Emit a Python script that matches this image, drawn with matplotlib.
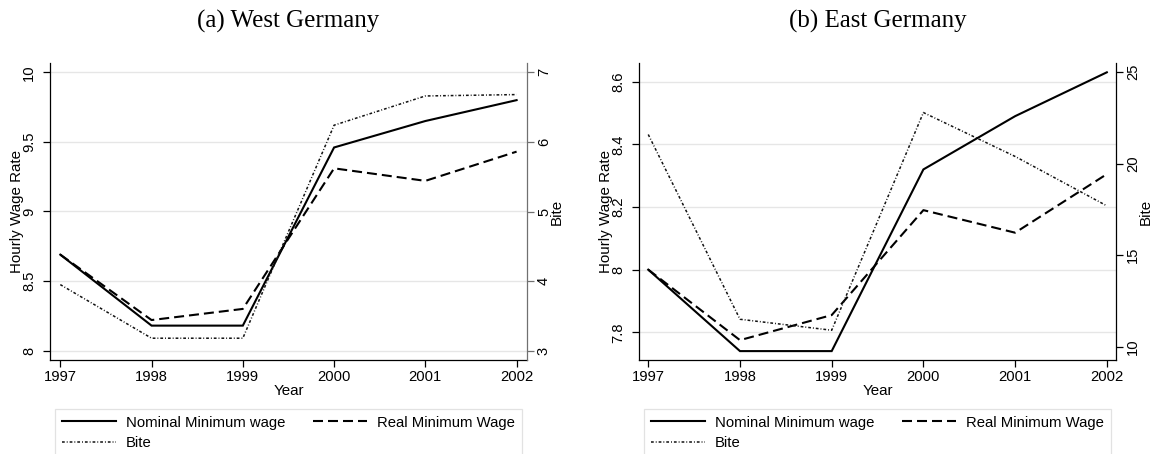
import matplotlib
matplotlib.use("Agg")
import matplotlib.pyplot as plt

plt.rcParams['font.family'] = ['Liberation Sans', 'DejaVu Sans']

years = [1997, 1998, 1999, 2000, 2001, 2002]

west_nominal = [8.69, 8.18, 8.18, 9.46, 9.65, 9.80]
west_real = [8.69, 8.22, 8.30, 9.31, 9.22, 9.43]
west_bite = [3.95, 3.18, 3.18, 6.24, 6.66, 6.68]

east_nominal = [8.00, 7.74, 7.74, 8.32, 8.49, 8.63]
east_real = [8.00, 7.775, 7.855, 8.19, 8.118, 8.305]
east_bite = [21.6, 11.5, 10.9, 22.8, 20.4, 17.7]

west_left_ticks = [8, 8.5, 9, 9.5, 10]
west_left_labels = ["8", "8.5", "9", "9.5", "10"]
west_right_ticks = [3, 4, 5, 6, 7]
east_left_ticks = [7.8, 8.0, 8.2, 8.4, 8.6]
east_left_labels = ["7.8", "8", "8.2", "8.4", "8.6"]
east_right_ticks = [10, 15, 20, 25]

titles = ["(a) West Germany", "(b) East Germany"]
legend_labels = ["Nominal Minimum wage", "Real Minimum Wage", "Bite"]

W, H = 1153, 454
fig = plt.figure(figsize=(W / 100, H / 100), dpi=100)

def px_rect(x0, x1, ytop, ybot):
    return [x0 / W, 1 - ybot / H, (x1 - x0) / W, (ybot - ytop) / H]

DASH = (4.8, 2.4)
BITE_DASH = (1.8, 1.3, 0.6, 1.3)

panels = [
    dict(x0=50, x1=527, nominal=west_nominal, real=west_real, bite=west_bite,
         lticks=west_left_ticks, llabels=west_left_labels, rticks=west_right_ticks,
         lylim=(7.933, 10.069), rylim=(2.867, 7.138), xlim=(1996.887, 2002.114),
         rspine='#707070', title=titles[0]),
    dict(x0=639, x1=1116, nominal=east_nominal, real=east_real, bite=east_bite,
         lticks=east_left_ticks, llabels=east_left_labels, rticks=east_right_ticks,
         lylim=(7.7116, 8.6607), rylim=(9.273, 25.525), xlim=(1996.899, 2002.10),
         rspine='black', title=titles[1]),
]

for p in panels:
    ax = fig.add_axes(px_rect(p['x0'], p['x1'], 62.7, 360))
    ax2 = ax.twinx()
    ax.set_zorder(1)
    ax2.set_zorder(2)
    ax.patch.set_visible(False)
    ax2.patch.set_visible(False)

    l1, = ax.plot(years, p['nominal'], color='black', lw=1.5, solid_joinstyle='miter')
    l2, = ax.plot(years, p['real'], color='black', lw=1.5, dashes=DASH)
    l3, = ax2.plot(years, p['bite'], color='#111111', lw=1.1, dashes=BITE_DASH)

    ax.set_xlim(*p['xlim'])
    ax.set_ylim(*p['lylim'])
    ax2.set_ylim(*p['rylim'])
    ax.set_xticks(years)
    ax.set_xticklabels([str(y) for y in years])
    ax.set_yticks(p['lticks'])
    ax.set_yticklabels(p['llabels'])
    ax2.set_yticks(p['rticks'])
    ax2.set_yticklabels([str(t) for t in p['rticks']])

    ax.grid(axis='y', color='#e6e6e6', lw=1.0)
    ax.set_axisbelow(True)

    for s in ['top', 'right']:
        ax.spines[s].set_visible(False)
    for s in ['top', 'left', 'bottom']:
        ax2.spines[s].set_visible(False)
    ax.spines['left'].set_color('black')
    ax.spines['bottom'].set_color('black')
    ax2.spines['right'].set_color(p['rspine'])
    for sp in [ax.spines['left'], ax.spines['bottom'], ax2.spines['right']]:
        sp.set_linewidth(0.9)

    ax.tick_params(axis='x', direction='out', length=5, width=0.9, pad=2, labelsize=10.6)
    ax.tick_params(axis='y', direction='out', length=5, width=0.9, pad=5, labelsize=10.6)
    ax2.tick_params(axis='y', direction='out', length=5, width=0.9, pad=2.2, labelsize=10.6,
                    color=p['rspine'])
    plt.setp(ax.get_yticklabels(), rotation=90, va='center', ha='right')
    plt.setp(ax2.get_yticklabels(), rotation=90, va='center', ha='left')

    cx = (p['x0'] + p['x1']) / 2
    off = p['x0'] - 50
    fig.text(cx / W, 1 - 21 / H, p['title'], ha='center', va='center',
             fontsize=18, family=['Liberation Serif', 'DejaVu Serif'])
    fig.text((16.7 + off) / W, 1 - 211.5 / H, "Hourly Wage Rate", rotation=90,
             ha='center', va='center', fontsize=10.9)
    fig.text((556.7 + off) / W, 1 - 212 / H, "Bite", rotation=90,
             ha='center', va='center', fontsize=10.9)
    fig.text(cx / W, 1 - 391 / H, "Year", ha='center', va='center', fontsize=10.9)

    leg = ax.legend([l1, l3, l2], [legend_labels[0], legend_labels[2], legend_labels[1]],
                    ncol=2, loc='upper left',
                    bbox_to_anchor=((55 + off) / W, 1 - 409 / H),
                    bbox_transform=fig.transFigure, borderaxespad=0,
                    fontsize=10.7, frameon=True, fancybox=False, framealpha=1,
                    edgecolor='#e2e2e2', handlelength=3.65, handletextpad=0.65,
                    columnspacing=1.9, labelspacing=0.45, borderpad=0.45)
    leg.get_frame().set_linewidth(0.9)

fig.savefig("out.png", dpi=100)
